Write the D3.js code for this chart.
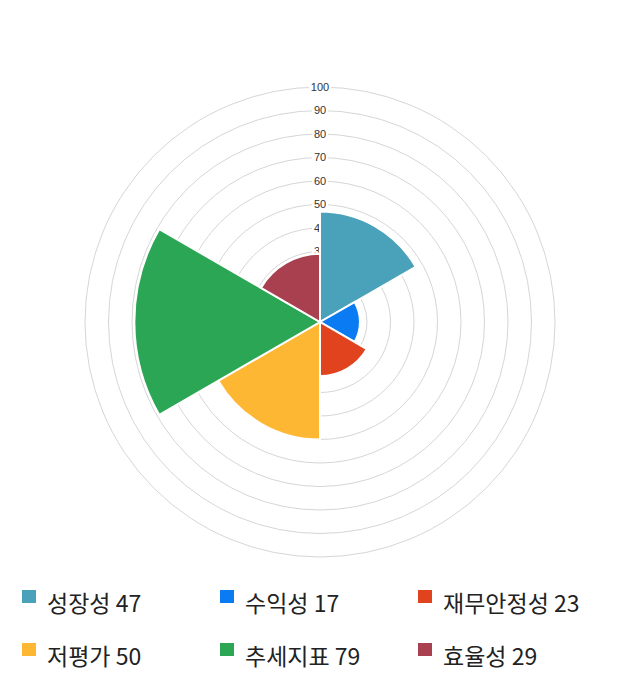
<!DOCTYPE html>
<html>
<head>
<meta charset="utf-8">
<script src="https://cdn.jsdelivr.net/npm/d3@7"></script>
<style>
	body { margin: 0; background: #fff; }
	svg { display: block; }
</style>
</head>
<body>
<div id="chart"></div>
<script>
"use strict";

// chart values
const categories = ["성장성", "수익성", "재무안정성", "저평가", "추세지표", "효율성"];
const values = [47, 17, 23, 50, 79, 29];
const colors = ["#4aa1ba", "#0b7bf4", "#e2431f", "#fdb732", "#2ba654", "#a8404f"];
const ticks = [0, 10, 20, 30, 40, 50, 60, 70, 80, 90, 100];

const w = 640;
const h = 700;
const cx = 320;
const cy = 322;
const outer = 235;

const svg = d3.select("#chart")
	.append("svg")
	.attr("width", w)
	.attr("height", h);

const r = d3.scaleLinear().domain([0, 100]).range([0, outer]);
const angle = d3.scaleBand().domain(categories).range([0, 2 * Math.PI]);

const g = svg.append("g").attr("transform", `translate(${cx},${cy})`);

// grid rings
g.selectAll("circle.grid")
	.data(ticks.filter(d => d > 0))
	.enter()
	.append("circle")
	.attr("class", "grid")
	.attr("r", d => r(d))
	.attr("fill", "none")
	.attr("stroke", "#d6d6d6")
	.attr("stroke-width", 1);

// tick labels with white backdrop
const tl = g.selectAll("g.tick")
	.data(ticks.filter(d => d > 0))
	.enter()
	.append("g")
	.attr("class", "tick")
	.attr("transform", d => `translate(0,${-r(d)})`);

tl.append("text")
	.text(d => d)
	.attr("text-anchor", "middle")
	.attr("dy", "0.35em")
	.attr("font-family", "Liberation Sans, Arial, sans-serif")
	.attr("font-size", "11px")
	.attr("fill", "#333")
	.each(function () {
		const b = this.getBBox();
		d3.select(this.parentNode).insert("rect", "text")
			.attr("x", b.x - 2)
			.attr("y", b.y)
			.attr("width", b.width + 4)
			.attr("height", b.height)
			.attr("fill", "#fff");
	});

// sectors
const arc = d3.arc()
	.innerRadius(0)
	.outerRadius(d => r(d.value))
	.startAngle(d => angle(d.cat))
	.endAngle(d => angle(d.cat) + angle.bandwidth());

g.selectAll("path.sector")
	.data(categories.map((c, i) => ({ cat: c, value: values[i], color: colors[i] })))
	.enter()
	.append("path")
	.attr("class", "sector")
	.attr("d", arc)
	.attr("fill", d => d.color)
	.attr("stroke", "#fff")
	.attr("stroke-width", 2);

// legend
const legend = svg.append("g");
const items = legend.selectAll("g")
	.data(categories)
	.enter()
	.append("g")
	.attr("transform", (d, i) => `translate(${22 + (i % 3) * 198},${590 + Math.floor(i / 3) * 53})`);

items.append("rect")
	.attr("width", 14)
	.attr("height", 13)
	.attr("fill", (d, i) => colors[i]);

items.append("text")
	.text((d, i) => d + " " + values[i])
	.attr("x", 25)
	.attr("y", 22)
	.attr("font-family", "Noto Sans CJK KR, sans-serif")
	.attr("font-size", "23px")
	.attr("fill", "#222");
</script>
</body>
</html>
